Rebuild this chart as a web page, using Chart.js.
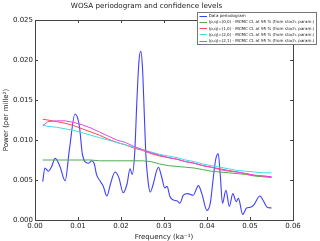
<!DOCTYPE html>
<html>
<head>
<meta charset="utf-8">
<script src="https://cdn.jsdelivr.net/npm/chart.js@4.4.1/dist/chart.umd.min.js"></script>
<style>
html,body{margin:0;padding:0;background:#fff;}
#wrap{position:relative;width:320px;height:241px;}
canvas{display:block;}
</style>
</head>
<body>
<div id="wrap"><canvas id="c" width="320" height="241"></canvas></div>
<script>
// ---- data ----
const titleText = 'WOSA periodogram and confidence levels';
const xTitle = 'Frequency (ka\u207B\u00B9)';
const yTitle = 'Power (per mille\u00B2)';
const xTickLabels = ['0.00','0.01','0.02','0.03','0.04','0.05','0.06'];
const yTickLabels = ['0.000','0.005','0.010','0.015','0.020','0.025'];
const seriesNames = [
  'Data periodogram',
  '(p,q)=(0,0) - MCMC CL at 95 % (from stoch. param.)',
  '(p,q)=(1,0) - MCMC CL at 95 % (from stoch. param.)',
  '(p,q)=(2,0) - MCMC CL at 95 % (from stoch. param.)',
  '(p,q)=(2,1) - MCMC CL at 95 % (from stoch. param.)'
];
const dataFreq = [0.0018,0.0023,0.0031,0.0038,0.0047,0.0058,0.0070,0.0080,0.0093,0.0103,0.0110,0.0116,0.0124,0.0132,0.0138,0.0143,0.0151,0.0159,0.0167,0.0176,0.0186,0.0195,0.0205,0.0214,0.0221,0.0226,0.0232,0.0237,0.0242,0.0246,0.0250,0.0254,0.0258,0.0263,0.0268,0.0275,0.0283,0.0287,0.0294,0.0302,0.0307,0.0314,0.0322,0.0330,0.0337,0.0345,0.0355,0.0368,0.0380,0.0388,0.0400,0.0408,0.0414,0.0420,0.0426,0.0431,0.0436,0.0444,0.0452,0.0460,0.0468,0.0473,0.0483,0.0492,0.0501,0.0509,0.0523,0.0531,0.0540,0.0550];
const dataPower = [0.0048,0.0065,0.0061,0.0066,0.0077,0.0067,0.0049,0.0088,0.01325,0.0118,0.0083,0.0073,0.0071,0.0074,0.0070,0.0057,0.0049,0.0042,0.0030,0.0046,0.0060,0.0053,0.0034,0.0045,0.0064,0.0057,0.0085,0.0150,0.0200,0.0211,0.0190,0.0135,0.0080,0.0048,0.0035,0.0045,0.0062,0.0066,0.0055,0.0040,0.0042,0.0029,0.0025,0.0024,0.0021,0.0031,0.0033,0.0031,0.0043,0.0033,0.0012,0.0022,0.0050,0.0075,0.0083,0.0055,0.0021,0.0037,0.0017,0.0033,0.0023,0.0027,0.0007,0.0015,0.0016,0.0019,0.0030,0.0024,0.0016,0.0015];
const clFreq = [0.0018,0.003,0.005,0.007,0.009,0.011,0.013,0.015,0.017,0.019,0.021,0.023,0.025,0.027,0.029,0.031,0.033,0.035,0.037,0.039,0.041,0.043,0.045,0.047,0.049,0.051,0.053,0.055];
const cl00 = [0.0075,0.0075,0.0075,0.0075,0.0075,0.0075,0.0075,0.0074,0.0074,0.0074,0.0074,0.0074,0.0074,0.0073,0.0070,0.0068,0.0067,0.0066,0.0065,0.0063,0.0061,0.0060,0.0059,0.0058,0.0057,0.0055,0.0054,0.0053];
const cl10 = [0.0126,0.0125,0.0123,0.0121,0.0118,0.0114,0.0110,0.0106,0.0101,0.0097,0.0094,0.0090,0.0087,0.0083,0.0080,0.0078,0.0076,0.0073,0.0071,0.0068,0.0066,0.0064,0.0062,0.0060,0.0058,0.0056,0.0055,0.0054];
const cl20 = [0.0119,0.0117,0.0116,0.0114,0.0112,0.0109,0.0106,0.0103,0.0100,0.0097,0.0094,0.0091,0.0088,0.0085,0.0082,0.0080,0.0078,0.0075,0.0073,0.0070,0.0068,0.0066,0.0064,0.0062,0.0061,0.0060,0.0059,0.0059];
const cl21 = [0.0118,0.0123,0.0124,0.0124,0.0122,0.0119,0.0115,0.0110,0.0105,0.0100,0.0097,0.0092,0.0088,0.0084,0.0081,0.0078,0.0076,0.0073,0.0071,0.0068,0.0066,0.0063,0.0061,0.0060,0.0058,0.0056,0.0055,0.0054];

const seriesColors = ['#3f3fff','#4fae4f','#ff4a4a','#3fdede','#e04ae0'];

const pts = (xs, ys) => xs.map((x, i) => ({x: x, y: ys[i]}));

const frameTicks = {
  id: 'frameTicks',
  afterDraw(chart) {
    const {ctx, chartArea: a, scales: {x, y}} = chart;
    ctx.save();
    ctx.strokeStyle = '#444';
    ctx.lineWidth = 1;
    ctx.strokeRect(Math.round(a.left) + 0.5, Math.round(a.top) + 0.5, Math.round(a.right - a.left), Math.round(a.bottom - a.top));
    ctx.beginPath();
    x.ticks.forEach(t => {
      const px = Math.round(x.getPixelForValue(t.value)) + 0.5;
      ctx.moveTo(px, a.bottom); ctx.lineTo(px, a.bottom - 3);
      ctx.moveTo(px, a.top); ctx.lineTo(px, a.top + 3);
    });
    y.ticks.forEach(t => {
      const py = Math.round(y.getPixelForValue(t.value)) + 0.5;
      ctx.moveTo(a.left, py); ctx.lineTo(a.left + 3, py);
      ctx.moveTo(a.right, py); ctx.lineTo(a.right - 3, py);
    });
    ctx.stroke();

    // legend box
    const bx = 197.5, by = 12.5, bw = 119, bh = 32;
    ctx.fillStyle = '#fff';
    ctx.fillRect(bx, by, bw, bh);
    ctx.strokeStyle = '#777';
    ctx.strokeRect(bx, by, bw, bh);
    let fs = 4;
    ctx.font = fs + 'px "DejaVu Sans"';
    const maxW = Math.max(...seriesNames.map(s => ctx.measureText(s).width));
    fs = fs * 106 / maxW;
    ctx.font = fs + 'px "DejaVu Sans"';
    ctx.textBaseline = 'middle';
    ctx.textAlign = 'left';
    chart.data.datasets.forEach((ds, i) => {
      const ry = 15.8 + i * 6.2;
      ctx.strokeStyle = ds.borderColor;
      ctx.lineWidth = 1;
      ctx.beginPath();
      ctx.moveTo(199.5, Math.round(ry) + 0.5);
      ctx.lineTo(207, Math.round(ry) + 0.5);
      ctx.stroke();
      ctx.fillStyle = '#222';
      ctx.fillText(ds.label, 208.7, ry + 0.3);
    });
    ctx.restore();
  }
};

new Chart(document.getElementById('c'), {
  type: 'line',
  data: {
    datasets: [
      {label: seriesNames[0], data: pts(dataFreq, dataPower), borderColor: seriesColors[0], borderWidth: 1.1, cubicInterpolationMode: 'monotone', order: 5},
      {label: seriesNames[1], data: pts(clFreq, cl00), borderColor: seriesColors[1], borderWidth: 1, tension: 0, order: 4},
      {label: seriesNames[2], data: pts(clFreq, cl10), borderColor: seriesColors[2], borderWidth: 1, tension: 0, order: 3},
      {label: seriesNames[3], data: pts(clFreq, cl20), borderColor: seriesColors[3], borderWidth: 1, tension: 0, order: 2},
      {label: seriesNames[4], data: pts(clFreq, cl21), borderColor: seriesColors[4], borderWidth: 1, tension: 0, order: 1}
    ]
  },
  options: {
    responsive: false,
    animation: false,
    devicePixelRatio: 1,
    layout: {padding: {left: 0, right: 27, top: 0, bottom: 0}},
    elements: {point: {radius: 0}},
    plugins: {
      legend: {display: false},
      tooltip: {enabled: false},
      title: {display: true, text: titleText, color: '#222', font: {family: 'DejaVu Sans', size: 7.2, weight: 'normal'}, padding: {top: 2, bottom: 9.4}}
    },
    scales: {
      x: {
        type: 'linear', min: 0, max: 0.06,
        afterFit: s => { s.height = 21; },
        afterBuildTicks: s => { s.ticks = xTickLabels.map(v => ({value: parseFloat(v)})); },
        grid: {display: false, drawTicks: false},
        border: {display: false},
        ticks: {padding: 2, color: '#222', font: {family: 'DejaVu Sans', size: 7}, maxRotation: 0, autoSkip: false,
          callback: (v, i) => xTickLabels[i]},
        title: {display: true, text: xTitle, color: '#222', font: {family: 'DejaVu Sans', size: 7}, padding: {top: 0, bottom: 0}}
      },
      y: {
        type: 'linear', min: 0, max: 0.025,
        afterFit: s => { s.width = 35; },
        afterBuildTicks: s => { s.ticks = yTickLabels.map(v => ({value: parseFloat(v)})); },
        grid: {display: false, drawTicks: false},
        border: {display: false},
        ticks: {padding: 2, color: '#222', font: {family: 'DejaVu Sans', size: 7}, autoSkip: false,
          callback: (v, i) => yTickLabels[i]},
        title: {display: true, text: yTitle, color: '#222', font: {family: 'DejaVu Sans', size: 7}, padding: {top: 2.3, bottom: 0}}
      }
    }
  },
  plugins: [frameTicks]
});
</script>
</body>
</html>
